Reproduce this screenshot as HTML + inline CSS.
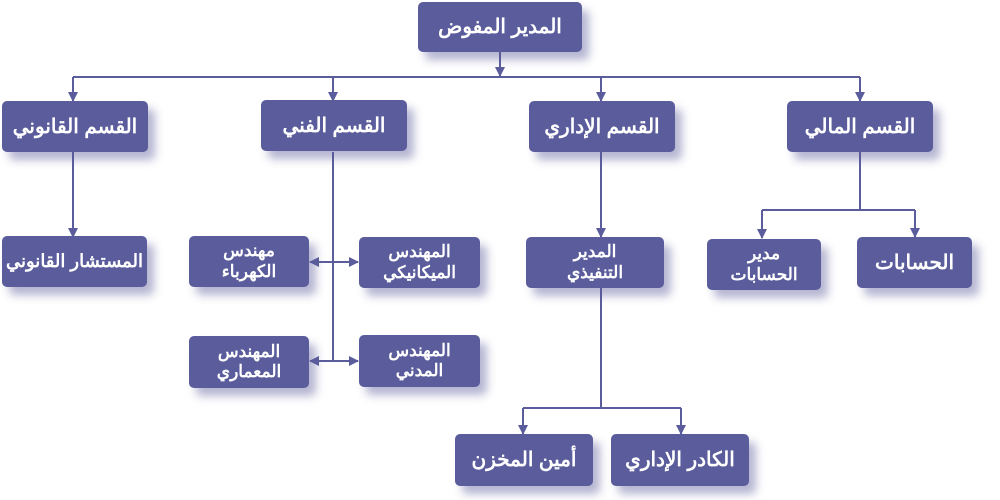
<!DOCTYPE html>
<html><head><meta charset="utf-8"><style>
body{margin:0;width:1000px;height:500px;background:#fff;position:relative;overflow:hidden;font-family:"Liberation Sans","Noto Sans CJK SC",sans-serif}
.b{position:absolute;background:#5a5c9c;border-radius:5px;color:#fff;font-weight:bold;display:flex;align-items:center;justify-content:center;text-align:center;box-shadow:7px 8px 9px rgba(90,92,156,0.45);direction:rtl;line-height:1.2;white-space:nowrap}
.l{font-size:20px}.s{font-size:17px}
svg{position:absolute;left:0;top:0}
</style></head><body>
<svg width="1000" height="500" viewBox="0 0 1000 500">
<defs><marker id="a" markerWidth="10" markerHeight="10" refX="9" refY="5" orient="auto" markerUnits="userSpaceOnUse"><path d="M0,0L10,5L0,10z" fill="#5a5c9c"/></marker></defs>
<g stroke="#5a5c9c" stroke-width="2" fill="none">
<line x1="500" y1="52" x2="500" y2="76" marker-end="url(#a)"/>
<line x1="73" y1="77" x2="860" y2="77"/>
<line x1="73" y1="77" x2="73" y2="101" marker-end="url(#a)"/>
<line x1="333" y1="77" x2="333" y2="101" marker-end="url(#a)"/>
<line x1="601" y1="77" x2="601" y2="101" marker-end="url(#a)"/>
<line x1="860" y1="77" x2="860" y2="101" marker-end="url(#a)"/>
<line x1="73" y1="152" x2="73" y2="237" marker-end="url(#a)"/>
<line x1="333" y1="152" x2="333" y2="362"/>
<line x1="333" y1="262" x2="310" y2="262" marker-end="url(#a)"/>
<line x1="333" y1="262" x2="358" y2="262" marker-end="url(#a)"/>
<line x1="333" y1="361" x2="310" y2="361" marker-end="url(#a)"/>
<line x1="333" y1="361" x2="358" y2="361" marker-end="url(#a)"/>
<line x1="601" y1="152" x2="601" y2="237" marker-end="url(#a)"/>
<line x1="860" y1="152" x2="860" y2="210"/>
<line x1="762" y1="210" x2="915" y2="210"/>
<line x1="762" y1="210" x2="762" y2="238" marker-end="url(#a)"/>
<line x1="915" y1="210" x2="915" y2="237" marker-end="url(#a)"/>
<line x1="601" y1="288" x2="601" y2="408"/>
<line x1="523" y1="408" x2="681" y2="408"/>
<line x1="523" y1="408" x2="523" y2="434" marker-end="url(#a)"/>
<line x1="681" y1="408" x2="681" y2="434" marker-end="url(#a)"/>
</g></svg>
<div class="b l" style="left:418px;top:2px;width:164px;height:50px">المدير المفوض</div>
<div class="b l" style="left:2px;top:101px;width:146px;height:51px">القسم القانوني</div>
<div class="b l" style="left:261px;top:100px;width:146px;height:51px">القسم الفني</div>
<div class="b l" style="left:529px;top:101px;width:146px;height:51px">القسم الإداري</div>
<div class="b l" style="left:787px;top:101px;width:146px;height:51px">القسم المالي</div>
<div class="b" style="left:2px;top:236px;width:145px;height:51px;font-size:18px">المستشار القانوني</div>
<div class="b s" style="left:189px;top:236px;width:120px;height:51px">مهندس<br>الكهرباء</div>
<div class="b s" style="left:359px;top:237px;width:121px;height:51px">المهندس<br>الميكانيكي</div>
<div class="b s" style="left:526px;top:237px;width:138px;height:51px">المدير<br>التنفيذي</div>
<div class="b s" style="left:707px;top:239px;width:114px;height:51px">مدير<br>الحسابات</div>
<div class="b l" style="left:857px;top:237px;width:115px;height:51px">الحسابات</div>
<div class="b s" style="left:189px;top:336px;width:120px;height:52px">المهندس<br>المعماري</div>
<div class="b s" style="left:359px;top:335px;width:121px;height:52px">المهندس<br>المدني</div>
<div class="b l" style="left:455px;top:434px;width:138px;height:52px">أمين المخزن</div>
<div class="b l" style="left:611px;top:434px;width:138px;height:52px">الكادر الإداري</div>
</body></html>
